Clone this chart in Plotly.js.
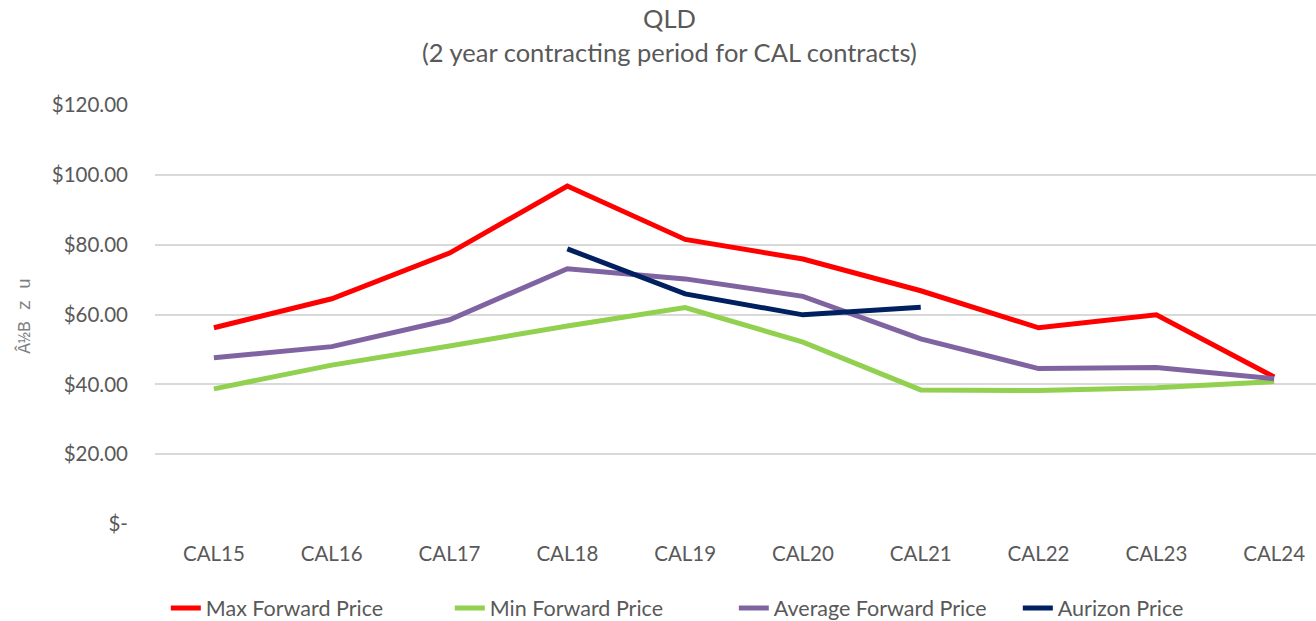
<!DOCTYPE html>
<html>
<head>
<meta charset="utf-8">
<script src="https://cdn.plot.ly/plotly-3.0.1.min.js"></script>
<style>html,body{margin:0;padding:0;background:#fff;}#chart{width:1316px;height:621px;}</style>
</head>
<body>
<div id="chart"></div>
<script>
const categories = ["CAL15","CAL16","CAL17","CAL18","CAL19","CAL20","CAL21","CAL22","CAL23","CAL24"];
const maxForward = [56.2, 64.5, 77.6, 96.8, 81.5, 75.9, 66.8, 56.2, 59.9, 42.1];
const minForward = [38.7, 45.5, 51.0, 56.7, 62.0, 52.1, 38.4, 38.2, 39.0, 40.8];
const avgForward = [47.6, 50.8, 58.5, 73.1, 70.2, 65.2, 53.0, 44.5, 44.8, 41.6];
const aurizon = [null, null, null, 78.8, 65.9, 59.9, 62.1, null, null, null];
const seriesNames = ["Max Forward Price","Min Forward Price","Average Forward Price","Aurizon Price"];
const yTickVals = [0,20,40,60,80,100,120];
const yTickText = ["$-","$20.00","$40.00","$60.00","$80.00","$100.00","$120.00"];
const titleLine1 = "QLD";
const titleLine2 = "(2 year contracting period for CAL contracts)";
const yTitleText = "Â½B z u";

const colors = ["#FF0000","#92D050","#8064A2","#002060"];
const series = [maxForward, minForward, avgForward, aurizon];
const traces = series.map((vals, i) => ({
  type: "scatter", mode: "lines", x: categories, y: vals, name: seriesNames[i],
  line: {color: colors[i], width: 5, shape: "linear"}, connectgaps: false
}));

const font = "Lato, 'Open Sans', sans-serif";
const layout = {
  width: 1316, height: 621,
  margin: {l: 155, r: 0, t: 105, b: 97},
  paper_bgcolor: "#fff", plot_bgcolor: "#fff",
  font: {family: font, color: "#595959", size: 20},
  xaxis: {type: "category", range: [-0.5, 9.355], showgrid: false, zeroline: false, showline: false,
          ticks: "", ticklabelstandoff: 15, tickfont: {size: 20.5, color: "#595959"}, automargin: false},
  yaxis: {range: [0, 120], tickvals: yTickVals, ticktext: yTickText, showgrid: true,
          gridcolor: "#d9d9d9", gridwidth: 1.5, zeroline: false, showline: false, ticks: "",
          ticklabelstandoff: 26, tickfont: {size: 20.5, color: "#595959"}, automargin: false},
  showlegend: true,
  legend: {orientation: "h", xref: "container", xanchor: "left", x: 0.126,
           y: 0.021, yref: "container", yanchor: "middle",
           font: {size: 21.5, color: "#595959"}, itemwidth: 30, traceorder: "normal",
           entrywidth: 239, entrywidthmode: "pixels"},
  annotations: [
    {text: yTitleText, textangle: -90, xref: "paper", yref: "paper", x: -0.112, y: 0.497,
     xanchor: "center", yanchor: "middle", showarrow: false,
     font: {family: "'Liberation Mono', monospace", size: 18, color: "#7f7f7f"}},
    {text: titleLine1, xref: "paper", yref: "paper", x: 0.443, y: 1.2076, xanchor: "center", yanchor: "middle",
     showarrow: false, font: {family: font, size: 25.5, color: "#595959"}},
    {text: titleLine2, xref: "paper", yref: "paper", x: 0.443, y: 1.1265, xanchor: "center", yanchor: "middle",
     showarrow: false, font: {family: font, size: 25.5, color: "#595959"}}
  ]
};
Plotly.newPlot("chart", traces, layout, {displayModeBar: false});
</script>
</body>
</html>
